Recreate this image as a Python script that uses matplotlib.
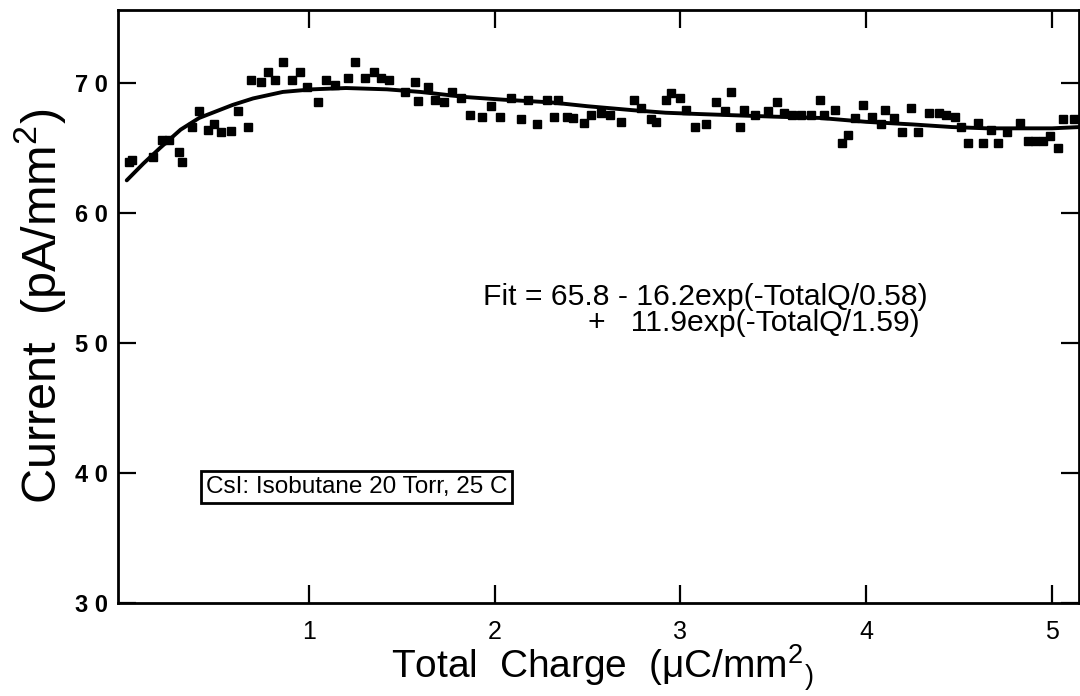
import matplotlib
matplotlib.use("Agg")
import matplotlib.pyplot as plt

# ---- data ----
charge = [0.03, 0.05, 0.16, 0.21, 0.25, 0.30, 0.32, 0.37, 0.41, 0.46, 0.49, 0.53, 0.58, 0.62,
          0.67, 0.69, 0.74, 0.78, 0.82, 0.86, 0.91, 0.95, 0.99, 1.05, 1.09, 1.14, 1.21, 1.25,
          1.30, 1.35, 1.39, 1.43, 1.52, 1.57, 1.59, 1.64, 1.68, 1.73, 1.77, 1.82, 1.87, 1.93,
          1.98, 2.03, 2.09, 2.14, 2.18, 2.23, 2.28, 2.32, 2.34, 2.39, 2.42, 2.48, 2.52, 2.57,
          2.62, 2.68, 2.75, 2.79, 2.84, 2.87, 2.92, 2.95, 3.00, 3.03, 3.08, 3.14, 3.19, 3.24,
          3.27, 3.32, 3.34, 3.40, 3.47, 3.52, 3.56, 3.60, 3.65, 3.70, 3.75, 3.77, 3.83, 3.87,
          3.90, 3.94, 3.98, 4.03, 4.08, 4.10, 4.15, 4.19, 4.24, 4.28, 4.34, 4.39, 4.43, 4.48,
          4.51, 4.55, 4.60, 4.63, 4.67, 4.71, 4.76, 4.83, 4.87, 4.91, 4.95, 4.99, 5.03, 5.06,
          5.12]
current = [63.9, 64.1, 64.3, 65.6, 65.6, 64.7, 63.9, 66.6, 67.8, 66.4, 66.8, 66.2, 66.3, 67.8,
           66.6, 70.2, 70.1, 70.8, 70.2, 71.6, 70.2, 70.8, 69.7, 68.5, 70.2, 69.8, 70.4, 71.6,
           70.4, 70.8, 70.4, 70.2, 69.3, 70.1, 68.6, 69.7, 68.7, 68.5, 69.3, 68.8, 67.5, 67.4,
           68.2, 67.4, 68.8, 67.2, 68.7, 66.8, 68.7, 67.4, 68.7, 67.4, 67.3, 66.9, 67.5, 67.7,
           67.5, 67.0, 68.7, 68.1, 67.2, 67.0, 68.7, 69.2, 68.8, 67.9, 66.6, 66.8, 68.5, 67.8,
           69.3, 66.6, 67.9, 67.5, 67.8, 68.5, 67.7, 67.5, 67.5, 67.5, 68.7, 67.5, 67.9, 65.4,
           66.0, 67.3, 68.3, 67.4, 66.8, 67.9, 67.3, 66.2, 68.1, 66.2, 67.7, 67.7, 67.5, 67.4,
           66.6, 65.4, 66.9, 65.4, 66.4, 65.4, 66.2, 66.9, 65.5, 65.5, 65.5, 65.9, 65.0, 67.2,
           67.2]

fit_charge = [0.02, 0.11, 0.20, 0.31, 0.41, 0.59, 0.70, 0.86, 1.02, 1.20, 1.42, 1.60, 1.85,
              2.05, 2.30, 2.50, 2.74, 2.92, 3.10, 3.30, 3.50, 3.75, 4.00, 4.25, 4.46, 4.65,
              4.82, 5.00, 5.15]
fit_current = [62.5, 63.8, 65.0, 66.4, 67.3, 68.3, 68.8, 69.3, 69.5, 69.6, 69.5, 69.3, 68.9,
               68.7, 68.5, 68.2, 67.9, 67.7, 67.6, 67.5, 67.4, 67.3, 67.0, 66.8, 66.6, 66.5,
               66.5, 66.5, 66.6]

x_ticks = [1, 2, 3, 4, 5]
x_tick_labels = ["1", "2", "3", "4", "5"]
y_ticks = [30, 40, 50, 60, 70]
y_tick_labels = ["3 0", "4 0", "5 0", "6 0", "7 0"]

fit_line1 = "Fit = 65.8 - 16.2exp(-TotalQ/0.58)"
fit_line2 = "+   11.9exp(-TotalQ/1.59)"
box_text = "CsI: Isobutane 20 Torr, 25 C"

# ---- figure ----
plt.rcParams['font.family'] = ['Liberation Sans', 'DejaVu Sans']
plt.rcParams['mathtext.fontset'] = 'custom'
plt.rcParams['mathtext.rm'] = 'Liberation Sans'
plt.rcParams['mathtext.it'] = 'Liberation Sans'

fig = plt.figure(figsize=(10.8, 6.96), dpi=100)
ax = fig.add_axes([118 / 1080, 93 / 696, (1079 - 118) / 1080, (603 - 10) / 696])

ax.plot(fit_charge, fit_current, color='black', lw=2.8, solid_capstyle='round')
ax.plot(charge, current, linestyle='none', marker='s', ms=6, color='black')

ax.set_xlim(-0.027, 5.145)
ax.set_ylim(30, 75.6)

ax.set_xticks(x_ticks)
ax.set_xticklabels(x_tick_labels, fontsize=18)
ax.set_yticks(y_ticks)
ax.set_yticklabels(y_tick_labels, fontsize=17, fontweight='bold')

ax.tick_params(axis='both', direction='in', length=13, width=1.6, top=True, right=True)
ax.tick_params(axis='x', pad=12)
ax.tick_params(axis='y', pad=7)
for s in ax.spines.values():
    s.set_linewidth(2.0)

fig.text(602 / 1080, 1 - 668 / 696, "Total  Charge  (\u03bcC/mm$^2$$_)$",
         fontsize=28, ha='center', va='center')
fig.text(40 / 1080, 1 - 306 / 696, "Current  (pA/mm$^2$)",
         fontsize=35, ha='center', va='center', rotation=90)

ax.text(1.94, 53.5, fit_line1, fontsize=21.7, ha='left', va='center')
ax.text(2.5, 51.5, fit_line2, fontsize=21.7, ha='left', va='center')
ax.text(0.445, 38.9, box_text, fontsize=17.5, ha='left', va='center',
        bbox=dict(boxstyle='square,pad=0.2', facecolor='white', edgecolor='black', linewidth=2))

fig.savefig("out.png", dpi=100)
